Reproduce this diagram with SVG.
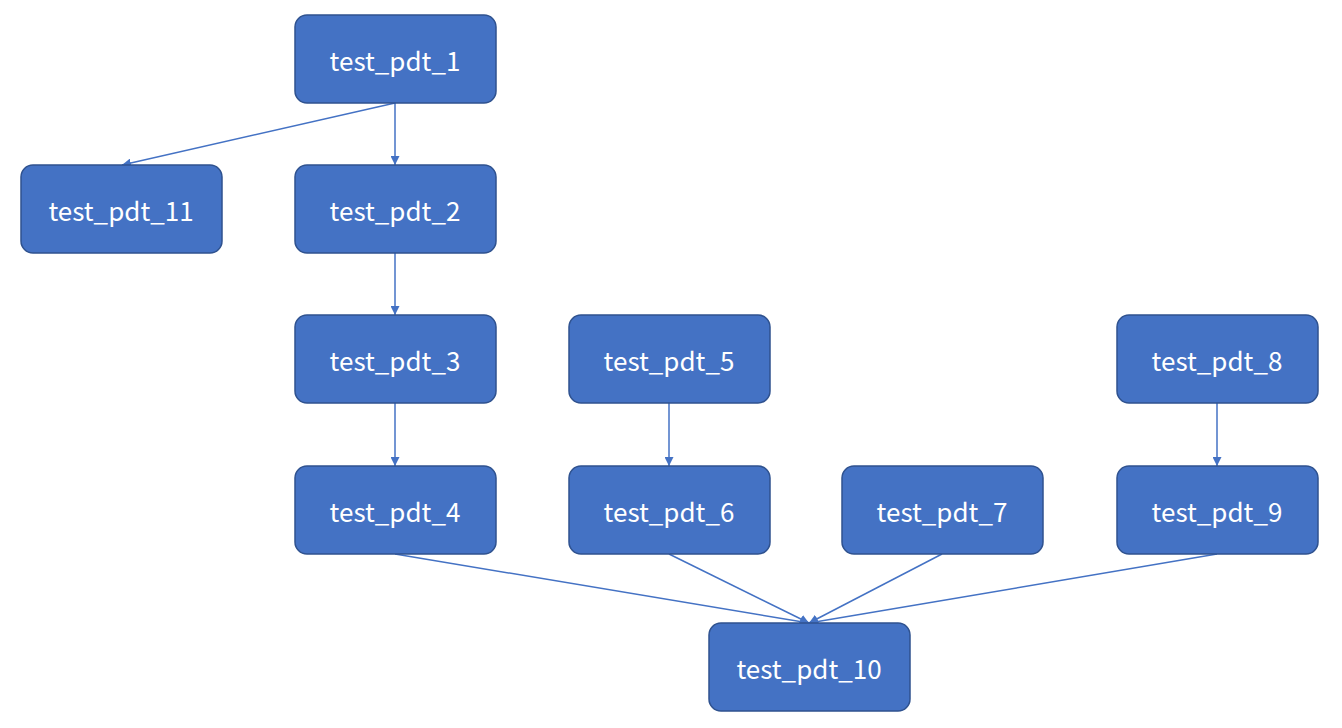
<svg xmlns="http://www.w3.org/2000/svg" width="1342" height="728" viewBox="0 0 1342 728">
<style>
.n rect{fill:#4472C4;stroke:#2F528F;stroke-width:1.5}
.n text{fill:#fff;font-family:"Noto Sans CJK JP","Noto Sans",sans-serif;font-size:26px;text-anchor:middle;dominant-baseline:central}
.c line{stroke:#4472C4;stroke-width:1.5;marker-end:url(#a)}
</style>
<defs><marker id="a" viewBox="0 0 10 10" refX="10" refY="5" markerWidth="6" markerHeight="6" orient="auto" markerUnits="strokeWidth"><path d="M0,0L10,5L0,10z" fill="#4472C4"/></marker></defs>
<rect width="1342" height="728" fill="#fff"/>
<g class="c">
<line x1="395" y1="103" x2="122" y2="165"/>
<line x1="395" y1="103" x2="395" y2="165"/>
<line x1="395" y1="253" x2="395" y2="315"/>
<line x1="395" y1="403" x2="395" y2="466"/>
<line x1="669" y1="403" x2="669" y2="466"/>
<line x1="1217" y1="403" x2="1217" y2="466"/>
<line x1="395" y1="554" x2="809" y2="623"/>
<line x1="669" y1="554" x2="809" y2="623"/>
<line x1="942" y1="554" x2="809" y2="623"/>
<line x1="1217" y1="554" x2="809" y2="623"/>
</g>
<g id="n1" class="n"><rect x="295" y="15" width="201" height="88" rx="12"/><text x="395" y="59">test_pdt_1</text></g>
<g id="n11" class="n"><rect x="21" y="165" width="201" height="88" rx="12"/><text x="121" y="209">test_pdt_11</text></g>
<g id="n2" class="n"><rect x="295" y="165" width="201" height="88" rx="12"/><text x="395" y="209">test_pdt_2</text></g>
<g id="n3" class="n"><rect x="295" y="315" width="201" height="88" rx="12"/><text x="395" y="359">test_pdt_3</text></g>
<g id="n5" class="n"><rect x="569" y="315" width="201" height="88" rx="12"/><text x="669" y="359">test_pdt_5</text></g>
<g id="n8" class="n"><rect x="1117" y="315" width="201" height="88" rx="12"/><text x="1217" y="359">test_pdt_8</text></g>
<g id="n4" class="n"><rect x="295" y="466" width="201" height="88" rx="12"/><text x="395" y="510">test_pdt_4</text></g>
<g id="n6" class="n"><rect x="569" y="466" width="201" height="88" rx="12"/><text x="669" y="510">test_pdt_6</text></g>
<g id="n7" class="n"><rect x="842" y="466" width="201" height="88" rx="12"/><text x="942" y="510">test_pdt_7</text></g>
<g id="n9" class="n"><rect x="1117" y="466" width="201" height="88" rx="12"/><text x="1217" y="510">test_pdt_9</text></g>
<g id="n10" class="n"><rect x="709" y="623" width="201" height="88" rx="12"/><text x="809" y="667">test_pdt_10</text></g>
</svg>
